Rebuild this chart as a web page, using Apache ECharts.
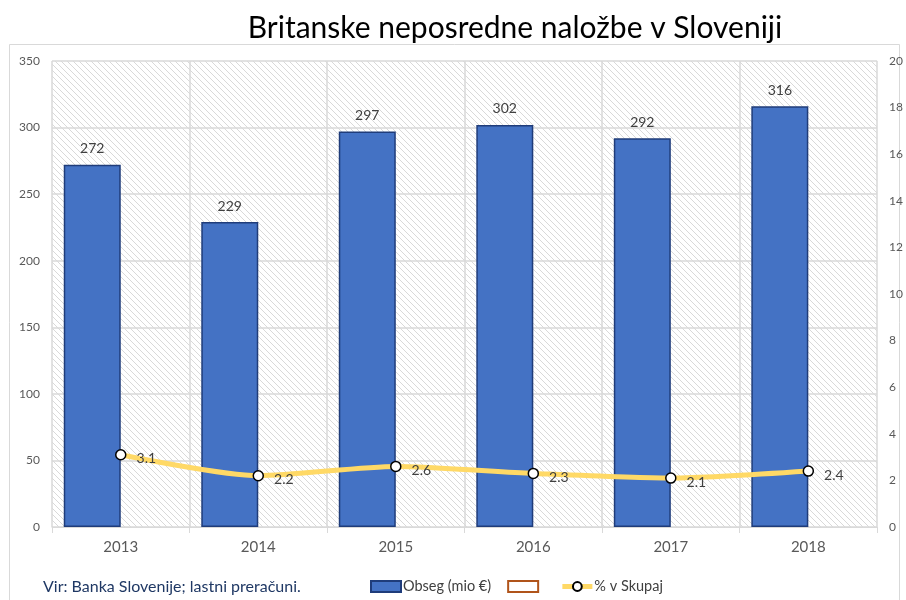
<!DOCTYPE html>
<html>
<head>
<meta charset="utf-8">
<script src="https://cdn.jsdelivr.net/npm/echarts@6/dist/echarts.min.js"></script>
<style>
  html, body { margin: 0; padding: 0; background: #fff; }
  #chart { width: 906px; height: 600px; }
</style>
</head>
<body>
<div id="chart"></div>
<script>
// Britanske neposredne naložbe v Sloveniji, 2013–2018
const years = ['2013', '2014', '2015', '2016', '2017', '2018'];
const obseg = [272, 229, 297, 302, 292, 316];          // mio €
const delez = [3.1, 2.2, 2.6, 2.3, 2.1, 2.4];          // % v skupaj
const emptySeries = ['-', '-', '-', '-', '-', '-'];

const FONT = 'Lato, "Open Sans", sans-serif';

// diagonal hatch fill for the plot area
function hatch() {
  const s = 6;
  const c = document.createElement('canvas');
  c.width = s; c.height = s;
  const g = c.getContext('2d');
  g.fillStyle = '#ffffff';
  g.fillRect(0, 0, s, s);
  g.strokeStyle = '#d9d9d9';
  g.lineWidth = 1;
  g.beginPath();
  g.moveTo(-1, -1); g.lineTo(s + 1, s + 1);
  g.moveTo(-1, s - 1); g.lineTo(1, s + 1);
  g.moveTo(s - 1, -1); g.lineTo(s + 1, 1);
  g.stroke();
  return { image: c, repeat: 'repeat' };
}

const chart = echarts.init(document.getElementById('chart'), null, { renderer: 'canvas' });

chart.setOption({
  animation: false,
  backgroundColor: '#ffffff',
  textStyle: { fontFamily: FONT },
  title: {
    text: 'Britanske neposredne naložbe v Sloveniji',
    left: 510, top: 8, textAlign: 'center',
    textStyle: { fontSize: 30, fontWeight: 'normal', color: '#000000', fontFamily: FONT }
  },
  graphic: [
    {
      type: 'rect', z: -1,
      shape: { x: 9.5, y: 44.5, width: 890, height: 580 },
      style: { fill: null, stroke: '#d9d9d9', lineWidth: 1 }
    },
    {
      type: 'text', left: 43, top: 579,
      style: { text: 'Vir: Banka Slovenije; lastni preračuni.', fill: '#1f3864', font: '16px ' + FONT }
    }
  ],
  legend: {
    top: 574, left: 365,
    itemWidth: 30, itemHeight: 11, itemGap: 16,
    textStyle: { fontSize: 14.5, color: '#404040', fontFamily: FONT, padding: [0, 0, 0, -3] },
    data: [
      { name: 'Obseg (mio €)', icon: 'rect' },
      { name: ' ', icon: 'rect' },
      { name: '% v Skupaj', lineStyle: { width: 5, color: '#ffd966' } }
    ]
  },
  grid: {
    left: 52, right: 27, top: 61, bottom: 73,
    show: true, borderWidth: 0, backgroundColor: hatch()
  },
  xAxis: {
    type: 'category', data: years,
    axisLine: { show: true, lineStyle: { color: '#d9d9d9', width: 1 } },
    axisTick: { show: true, length: 6, lineStyle: { color: '#d9d9d9' } },
    splitLine: { show: true, lineStyle: { color: '#d9d9d9', width: 1.5 } },
    axisLabel: { color: '#595959', fontSize: 15, margin: 13 }
  },
  yAxis: [
    {
      type: 'value', min: 0, max: 350, interval: 50,
      axisLine: { show: false }, axisTick: { show: false },
      splitLine: { show: true, lineStyle: { color: '#d9d9d9', width: 1.5 } },
      axisLabel: { color: '#595959', fontSize: 12, margin: 12 }
    },
    {
      type: 'value', min: 0, max: 20, interval: 2,
      axisLine: { show: false }, axisTick: { show: false },
      splitLine: { show: false },
      axisLabel: { color: '#595959', fontSize: 12, margin: 12 }
    }
  ],
  series: [
    {
      name: 'Obseg (mio €)', type: 'bar', data: obseg,
      barWidth: 57, barGap: '0%',
      itemStyle: { color: '#4472c4', borderColor: '#1f3c7a', borderWidth: 1.5 },
      label: { show: true, position: 'top', distance: 9, color: '#404040', fontSize: 14 }
    },
    {
      name: ' ', type: 'bar', data: emptySeries,
      barWidth: 57,
      itemStyle: { color: '#ffffff', borderColor: '#b0541a', borderWidth: 1.5 }
    },
    {
      name: '% v Skupaj', type: 'line', yAxisIndex: 1, data: delez,
      smooth: 0.25,
      lineStyle: { color: '#ffd966', width: 5 },
      itemStyle: { color: '#ffffff', borderColor: '#000000', borderWidth: 1.5 },
      symbol: 'circle', symbolSize: 10,
      label: { show: true, position: 'right', distance: 10, offset: [0, 4], color: '#404040', fontSize: 14 }
    }
  ]
});
</script>
</body>
</html>
